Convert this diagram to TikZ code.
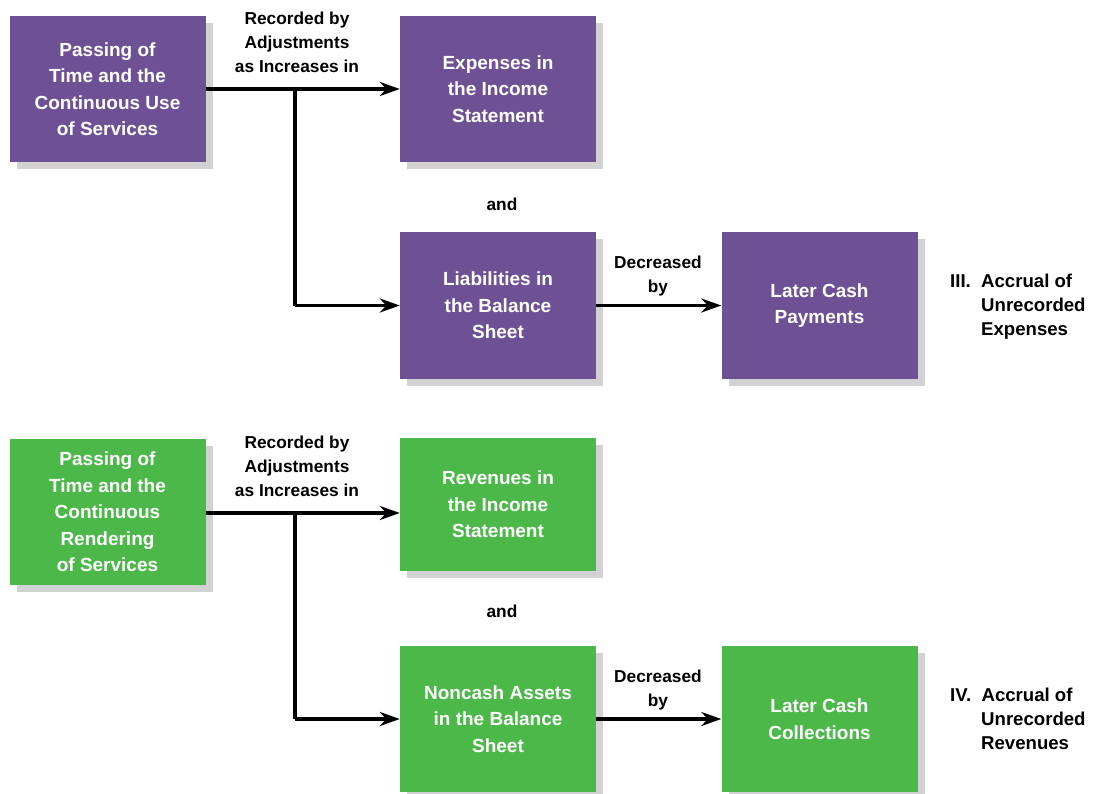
\documentclass[tikz,border=0pt]{standalone}
\usepackage{fontspec}
\setmainfont{Liberation Sans}
\usetikzlibrary{arrows.meta,shadows}
\definecolor{plum}{HTML}{6E5195}
\definecolor{leaf}{HTML}{4CB84A}
\definecolor{shade}{HTML}{D2D2D4}
\begin{document}
\begin{tikzpicture}[x=1pt,y=-1pt,
  box/.style={minimum width=196pt,minimum height=146pt,inner sep=0pt,
    text=white,align=center,font=\fontsize{19}{26.5}\selectfont\bfseries,
    drop shadow={shadow xshift=7pt,shadow yshift=-7pt,fill=shade,opacity=1}},
  pbox/.style={box,fill=plum},
  gbox/.style={box,fill=leaf},
  lbl/.style={align=center,font=\fontsize{17.3}{24}\selectfont\bfseries,inner sep=0pt},
  side/.style={align=left,font=\fontsize{18.6}{24}\selectfont\bfseries,inner sep=0pt,anchor=north west},
  flow/.style={line width=3.5pt,-{Stealth[length=20pt,width=14pt]}},
  trunk/.style={line width=3.5pt}]
\useasboundingbox (0,0) rectangle (1097,794);

% --- accrued expenses ---
\node[pbox] (time1) at (107.5,89) {Passing of\\Time and the\\Continuous Use\\of Services};
\node[pbox] (exp) at (498,89) {Expenses in\\the Income\\Statement};
\node[pbox] (liab) at (498,305.5) {Liabilities in\\the Balance\\Sheet};
\node[pbox] (pay) at (819.5,305.5) {Later Cash\\Payments};
\coordinate (j1) at (295,89);
\draw[flow] (time1.east) -- (exp.west);
\draw[trunk] (j1) -- (j1 |- liab.west);
\draw[flow] (j1 |- liab.west) -- (liab.west);
\draw[flow] (liab.east) -- (pay.west);
\node[lbl] (rec1) at (297,42) {Recorded by\\Adjustments\\as Increases in};
\node[lbl] (and1) at (502,204) {and};
\node[lbl] (dec1) at (658,276) {Decreased\\by};
\node[side] (iii) at (950,274) {III.\ \ Accrual of\\\phantom{III.\ \ }Unrecorded\\\phantom{III.\ \ }Expenses};

% --- accrued revenues ---
\node[gbox] (time2) at (107.5,512) {Passing of\\Time and the\\Continuous\\Rendering\\of Services};
\node[gbox,minimum height=133pt] (rev) at (498,504.5) {Revenues in\\the Income\\Statement};
\node[gbox] (asset) at (498,719) {Noncash Assets\\in the Balance\\Sheet};
\node[gbox] (coll) at (819.5,719) {Later Cash\\Collections};
\coordinate (j2) at (295,513);
\draw[flow] (time2.east |- j2) -- (rev.west |- j2);
\draw[trunk] (j2) -- (j2 |- asset.west);
\draw[flow] (j2 |- asset.west) -- (asset.west);
\draw[flow] (asset.east) -- (coll.west);
\node[lbl] (rec2) at (297,466) {Recorded by\\Adjustments\\as Increases in};
\node[lbl] (and2) at (502,611) {and};
\node[lbl] (dec2) at (658,690) {Decreased\\by};
\node[side] (iv) at (950,688) {IV.\ \ Accrual of\\\phantom{III.\ \ }Unrecorded\\\phantom{III.\ \ }Revenues};
\end{tikzpicture}
\end{document}
